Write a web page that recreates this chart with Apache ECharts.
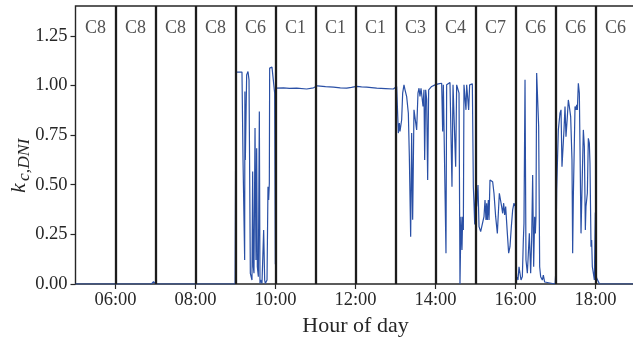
<!DOCTYPE html>
<html><head><meta charset="utf-8">
<script src="https://cdn.jsdelivr.net/npm/echarts@6/dist/echarts.min.js"></script>
<style>html,body{margin:0;padding:0;overflow:hidden;background:#fff}#c{width:636px;height:340px}</style>
</head><body><div id="c"></div>
<script>
// time of day in decimal hours
const hours = [
  5.000, 6.900, 6.950, 7.000, 8.990,
  9.000, 9.012, 9.162, 9.188, 9.229, 9.235, 9.246, 9.279, 9.312, 9.338, 9.371, 9.412, 9.429, 9.446, 9.462,
  9.488, 9.512, 9.529, 9.546, 9.571, 9.596, 9.612, 9.629, 9.662, 9.704, 9.729, 9.746, 9.788, 9.812, 9.829,
  9.846, 9.854, 9.912, 9.962, 9.979, 9.996,
  10.010, 10.030, 10.200, 10.350, 10.530, 10.780, 10.950, 11.000, 11.050, 11.250, 11.450, 11.620, 11.780,
  11.900, 12.030, 12.150, 12.280, 12.400, 12.530, 12.750, 12.945, 12.988,
  13.029, 13.071, 13.096, 13.112, 13.154, 13.179, 13.212, 13.238, 13.279, 13.321, 13.346, 13.379, 13.404,
  13.429, 13.462, 13.496, 13.529, 13.562, 13.588, 13.612, 13.638, 13.662, 13.688, 13.712, 13.729, 13.754,
  13.779, 13.804, 13.829, 13.862, 13.904, 13.946, 13.988,
  14.029, 14.071, 14.112, 14.154, 14.179, 14.196, 14.238, 14.262, 14.279, 14.321, 14.362, 14.388, 14.412,
  14.438, 14.471, 14.504, 14.529, 14.554, 14.588, 14.612, 14.638, 14.662, 14.679, 14.696, 14.712, 14.738,
  14.762, 14.779, 14.804, 14.829, 14.854, 14.888, 14.921, 14.946, 14.962, 14.980,
  15.004, 15.029, 15.062, 15.088, 15.129, 15.171, 15.212, 15.238, 15.262, 15.279, 15.296, 15.321, 15.338,
  15.362, 15.396, 15.429, 15.462, 15.504, 15.546, 15.571, 15.596, 15.629, 15.654, 15.679, 15.704, 15.729,
  15.754, 15.796, 15.829, 15.862, 15.896, 15.929, 15.962, 15.996,
  16.012, 16.029, 16.062, 16.088, 16.112, 16.138, 16.171, 16.196, 16.212, 16.238, 16.262, 16.296, 16.321,
  16.346, 16.379, 16.404, 16.429, 16.454, 16.479, 16.496, 16.512, 16.529, 16.554, 16.579, 16.604, 16.629,
  16.671, 16.696, 16.729, 16.754, 16.990,
  17.004, 17.029, 17.071, 17.112, 17.138, 17.162, 17.179, 17.212, 17.238, 17.262, 17.296, 17.321, 17.346,
  17.379, 17.412, 17.429, 17.446, 17.488, 17.512, 17.529, 17.546, 17.571, 17.596, 17.612, 17.638, 17.662,
  17.696, 17.721, 17.746, 17.762, 17.796, 17.821, 17.846, 17.862, 17.888, 17.904, 17.921, 17.946, 17.971,
  17.996, 18.012, 18.029, 18.071, 18.100, 19.000
];
// clear-sky index k_c,DNI
const kc = [
  0.000, 0.000, 0.012, 0.000, 0.000,
  0.000, 1.067, 1.067, 0.625, 0.121, 0.969, 0.625, 1.053, 1.070, 1.028, 0.054, 0.020, 0.566, 0.087, 0.054,
  0.785, 0.121, 0.684, 0.087, 0.037, 0.869, 0.003, 0.020, 0.003, 0.272, 0.020, 0.003, 0.020, 0.490, 0.423,
  0.507, 1.087, 1.092, 1.092, 0.961, 0.100,
  0.986, 0.986, 0.988, 0.985, 0.986, 0.982, 0.988, 0.995, 0.998, 0.994, 0.991, 0.988, 0.986,
  0.990, 0.995, 0.993, 0.991, 0.989, 0.986, 0.984, 0.982, 0.986,
  0.995, 0.760, 0.810, 0.768, 0.827, 0.961, 1.003, 0.978, 0.944, 0.860, 0.642, 0.238, 0.760,
  0.323, 0.877, 0.880, 0.776, 0.961, 0.986, 0.944, 0.986, 0.995, 0.894, 0.978, 0.625, 0.978,
  0.930, 0.524, 0.978, 0.986, 0.995, 0.986, 1.003,
  1.011, 1.008, 1.008, 1.011, 0.768, 1.003, 1.011, 0.155, 1.003, 1.011, 1.015, 1.011, 0.490,
  1.003, 1.003, 0.591, 1.003, 1.003, 0.961, 0.000, 0.339, 0.171, 0.339, 0.272, 1.003, 1.003,
  0.877, 1.003, 1.003, 0.877, 1.003, 1.008, 1.008, 0.490, 0.407, 0.300,
  0.490, 0.390, 0.499, 0.289, 0.264, 0.255, 0.339, 0.423, 0.323, 0.407, 0.323, 0.423, 0.323,
  0.524, 0.524, 0.515, 0.457, 0.339, 0.255, 0.356, 0.457, 0.465, 0.390, 0.356, 0.407, 0.348,
  0.390, 0.255, 0.155, 0.188, 0.289, 0.373, 0.407, 0.390,
  0.087, 0.037, 0.020, 0.087, 0.054, 0.020, 0.037, 0.222, 0.306, 1.028, 0.121, 0.054, 0.155,
  0.255, 0.054, 0.222, 0.549, 0.087, 0.339, 0.255, 0.339, 1.062, 1.053, 0.793, 0.087, 0.037,
  0.020, 0.045, 0.010, 0.000, 0.000,
  0.050, 0.474, 0.776, 0.860, 0.877, 0.591, 0.583, 0.776, 0.894, 0.742, 0.843, 0.927, 0.894,
  0.843, 0.625, 0.155, 0.440, 0.894, 0.877, 0.902, 0.877, 1.011, 0.961, 0.692, 0.255, 0.474,
  0.776, 0.692, 0.272, 0.390, 0.457, 0.734, 0.709, 0.608, 0.188, 0.222, 0.087, 0.054, 0.020,
  0.360, 0.054, 0.030, 0.037, 0.000, 0.000
];
// hourly sky-condition classes (hour starting at regimeStart)
const regimeStart = [5, 6, 7, 8, 9, 10, 11, 12, 13, 14, 15, 16, 17, 18];
const regimes = ['C8', 'C8', 'C8', 'C8', 'C6', 'C1', 'C1', 'C1', 'C3', 'C4', 'C7', 'C6', 'C6', 'C6'];
const boundaries = [6, 7, 8, 9, 10, 11, 12, 13, 14, 15, 16, 17, 18];
const xTicks = [6, 8, 10, 12, 14, 16, 18];
const yTicks = [0, 0.25, 0.5, 0.75, 1.0, 1.25];

const FONT = 'Liberation Serif';
const INK = '#262626';
const chart = echarts.init(document.getElementById('c'), null, {renderer: 'canvas'});
const LABEL_Y = 1.29;

chart.setOption({
  animation: false,
  grid: {left: 75.5, right: 0.5, top: 6, bottom: 56, outerBoundsMode: 'none', containLabel: false,
    show: true, borderColor: INK, borderWidth: 1.4, backgroundColor: 'transparent'},
  xAxis: {
    type: 'value', min: 5, max: 19,
    axisLine: {show: false},
    splitLine: {show: false},
    axisTick: {show: true, customValues: xTicks, length: 5, lineStyle: {color: INK, width: 1.2}},
    axisLabel: {customValues: xTicks, margin: 7, color: INK, fontFamily: FONT, fontSize: 18.5,
      formatter: v => (v < 10 ? '0' : '') + v + ':00'},
    name: 'Hour of day', nameLocation: 'middle', nameGap: 27,
    nameTextStyle: {color: INK, fontFamily: FONT, fontSize: 22}
  },
  yAxis: {
    type: 'value', min: 0, max: 1.4,
    axisLine: {show: false},
    splitLine: {show: false},
    axisTick: {show: true, customValues: yTicks, length: 5, lineStyle: {color: INK, width: 1.2}},
    axisLabel: {customValues: yTicks, margin: 8, color: INK, fontFamily: FONT, fontSize: 18.5,
      formatter: v => v.toFixed(2)}
  },
  graphic: [
    {type: 'text', x: 19, y: 193, rotation: Math.PI / 2,
      style: {text: 'k', fontFamily: FONT, fontStyle: 'italic', fontSize: 22, fill: INK, align: 'left', verticalAlign: 'middle'}},
    {type: 'text', x: 24.5, y: 181, rotation: Math.PI / 2,
      style: {text: 'c,DNI', fontFamily: FONT, fontStyle: 'italic', fontSize: 17.5, fill: INK, align: 'left', verticalAlign: 'middle'}}
  ],
  series: [
    {
      type: 'line', z: 2,
      data: hours.map((h, i) => [h, kc[i]]),
      showSymbol: false, symbol: 'none',
      lineStyle: {color: '#2a50a6', width: 1.2},
      clip: true
    },
    {
      type: 'line', z: 5, data: [],
      markLine: {
        silent: true, symbol: ['none', 'none'], animation: false,
        label: {show: false},
        lineStyle: {color: '#1c1c1c', width: 2.3, type: 'solid'},
        emphasis: {disabled: true},
        data: boundaries.map(b => ({xAxis: b}))
      }
    },
    {
      type: 'scatter', z: 6, symbolSize: 1,
      itemStyle: {color: 'transparent'},
      data: regimes.map((r, i) => [regimeStart[i] + 0.5, LABEL_Y, r]),
      label: {show: true, position: 'inside', formatter: p => p.data[2],
        color: INK, fontFamily: FONT, fontSize: 18},
      emphasis: {disabled: true}
    }
  ]
});
</script>
</body></html>
